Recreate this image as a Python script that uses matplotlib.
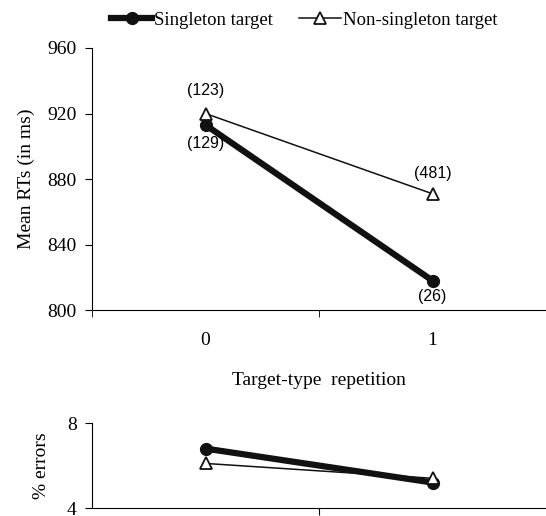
import matplotlib.pyplot as plt

# data
conditions = ['0', '1']
rt_singleton = [913, 818]
rt_nonsingleton = [920, 871]
n_singleton = ['(129)', '(26)']
n_nonsingleton = ['(123)', '(481)']
err_singleton = [6.8, 5.2]
err_nonsingleton = [6.1, 5.4]

serif = 'Liberation Serif'
sans = 'Liberation Sans'
fs = 14

fig = plt.figure(figsize=(5.46, 5.16), dpi=100)
ax = fig.add_axes([0.1685, 0.399, 0.8315, 0.508])
ax2 = fig.add_axes([0.1685, 0.0155, 0.8315, 0.1645])

x = range(len(conditions))

ax.plot(x, rt_singleton, color='#111111', lw=4.5, marker='o', ms=8.5,
        mfc='#111111', mec='#111111', label='Singleton target', zorder=3)
ax.plot(x, rt_nonsingleton, color='#111111', lw=1.1, marker='^', ms=9,
        mfc='white', mec='#111111', mew=1.3, label='Non-singleton target', zorder=4)

# cell counts
ax.annotate(n_nonsingleton[0], (0, rt_nonsingleton[0]), xytext=(0, 11),
            textcoords='offset points', ha='center', va='bottom', fontsize=11.5, family=sans)
ax.annotate(n_singleton[0], (0, rt_singleton[0]), xytext=(0, -8),
            textcoords='offset points', ha='center', va='top', fontsize=11.5, family=sans)
ax.annotate(n_nonsingleton[1], (1, rt_nonsingleton[1]), xytext=(0, 9),
            textcoords='offset points', ha='center', va='bottom', fontsize=11.5, family=sans)
ax.annotate(n_singleton[1], (1, rt_singleton[1]), xytext=(0, -6),
            textcoords='offset points', ha='center', va='top', fontsize=11.5, family=sans)

ax.set_xlim(-0.5, 1.5)
ax.set_ylim(800, 960)
ax.set_yticks([800, 840, 880, 920, 960])
ax.set_xticks([0, 1])
ax.set_xticklabels(conditions)
ax.set_xticks([-0.5, 0.5, 1.5], minor=True)
ax.tick_params(axis='x', which='major', length=0, pad=16)
ax.tick_params(axis='x', which='minor', length=5, direction='out')
ax.tick_params(axis='y', length=5, direction='out', pad=6)
ax.set_ylabel('Mean RTs (in ms)', family=serif, fontsize=fs, labelpad=9)
ax.set_xlabel('Target-type  repetition', family=serif, fontsize=fs, labelpad=16)
for lab in ax.get_xticklabels() + ax.get_yticklabels():
    lab.set_family(serif)
    lab.set_fontsize(fs)
for s in ['top', 'right']:
    ax.spines[s].set_visible(False)

# error panel
ax2.plot(x, err_singleton, color='#111111', lw=4.5, marker='o', ms=8.5,
         mfc='#111111', mec='#111111', zorder=3)
ax2.plot(x, err_nonsingleton, color='#111111', lw=1.1, marker='^', ms=9,
         mfc='white', mec='#111111', mew=1.3, zorder=4)
ax2.set_xlim(-0.5, 1.5)
ax2.set_ylim(4, 8)
ax2.set_yticks([4, 8])
ax2.set_xticks([0.5])
ax2.set_xticklabels([])
ax2.tick_params(axis='x', length=5, direction='out')
ax2.tick_params(axis='y', length=5, direction='out', pad=6)
ax2.set_ylabel('% errors', family=serif, fontsize=fs, labelpad=12)
for lab in ax2.get_yticklabels():
    lab.set_family(serif)
    lab.set_fontsize(fs)
for s in ['top', 'right']:
    ax2.spines[s].set_visible(False)

fig.legend(loc='upper center', bbox_to_anchor=(0.557, 1.01), ncol=2, frameon=False,
           prop={'family': serif, 'size': 13.5}, handlelength=2.2, handletextpad=0.1,
           columnspacing=1.4)

fig.savefig('out.png', dpi=100)
